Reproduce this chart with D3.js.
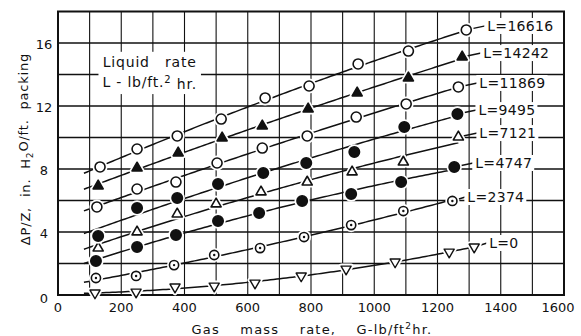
<!DOCTYPE html>
<html><head><meta charset="utf-8">
<script src="https://cdn.jsdelivr.net/npm/d3@7"></script>
<style>
html,body{margin:0;padding:0;background:#fff;}
svg{display:block;font-family:"DejaVu Sans",sans-serif;}
</style></head><body>
<svg id="chart" width="581" height="336"></svg>
<script>
// ---- data ----
const xTickValues = [0, 200, 400, 600, 800, 1000, 1200, 1400, 1600];
const yTickValues = [0, 4, 8, 12, 16];
const liquidRates = [0, 2374, 4747, 7121, 9495, 11869, 14242, 16616];

const gasL0     = [117, 247, 370, 494, 623, 769, 911, 1066, 1237, 1316];
const dpL0      = [0.13, 0.19, 0.51, 0.57, 0.76, 1.21, 1.65, 2.10, 2.73, 3.05];
const gasL2374  = [120, 247, 367, 494, 639, 778, 927, 1092, 1247];
const dpL2374   = [1.08, 1.21, 1.90, 2.54, 2.98, 3.68, 4.44, 5.33, 5.97];
const gasL4747  = [120, 250, 373, 506, 636, 772, 927, 1085, 1253];
const dpL4747   = [2.16, 3.05, 3.81, 4.70, 5.21, 5.97, 6.41, 7.17, 8.13];
const gasL7121  = [127, 250, 377, 500, 642, 788, 930, 1092, 1266];
const dpL7121   = [2.98, 4.00, 5.14, 5.78, 6.54, 7.17, 7.81, 8.44, 10.03];
const gasL9495  = [127, 250, 377, 506, 649, 785, 937, 1095, 1263];
const dpL9495   = [3.75, 5.52, 6.16, 7.05, 7.75, 8.38, 9.08, 10.67, 11.49];
const gasL11869 = [123, 250, 373, 503, 646, 788, 943, 1101, 1266];
const dpL11869  = [5.59, 6.73, 7.17, 8.38, 9.33, 10.10, 11.30, 12.13, 13.21];
const gasL14242 = [127, 250, 380, 519, 646, 791, 946, 1108, 1278];
const dpL14242  = [6.92, 8.06, 9.02, 9.97, 10.73, 11.81, 12.83, 13.78, 15.11];
const gasL16616 = [133, 250, 377, 516, 655, 794, 949, 1108, 1291];
const dpL16616  = [8.13, 9.27, 10.10, 11.17, 12.51, 13.27, 14.67, 15.49, 16.83];

const gasSeries = [gasL0, gasL2374, gasL4747, gasL7121, gasL9495, gasL11869, gasL14242, gasL16616];
const dpSeries  = [dpL0, dpL2374, dpL4747, dpL7121, dpL9495, dpL11869, dpL14242, dpL16616];
const markerKinds = ["triDownOpen", "circleDot", "circleFilled", "triUpOpen", "circleFilled", "circleOpen", "triUpFilled", "circleOpen"];

// ---- layout ----
const W = 581, H = 336;
const m = {left: 58, right: 17, top: 11.5, bottom: 41};
const svg = d3.select("#chart");
const x = d3.scaleLinear().domain([0, 1600]).range([m.left, W - m.right]);
const y = d3.scaleLinear().domain([0, 18]).range([H - m.bottom, m.top]);
const ink = "#111";

svg.append("rect").attr("width", W).attr("height", H).attr("fill", "#fff");

// grid
const g = svg.append("g");
g.selectAll("line.v").data(d3.range(100, 1600, 100)).join("line")
  .attr("x1", d => x(d)).attr("x2", d => x(d))
  .attr("y1", y(0)).attr("y2", y(18))
  .attr("stroke", ink).attr("stroke-width", 1.1);
g.selectAll("line.h").data(d3.range(2, 18, 2)).join("line")
  .attr("x1", x(0)).attr("x2", x(1600))
  .attr("y1", d => y(d)).attr("y2", d => y(d))
  .attr("stroke", ink).attr("stroke-width", 1.5);
g.append("rect").attr("x", x(0)).attr("y", y(18))
  .attr("width", x(1600) - x(0)).attr("height", y(0) - y(18))
  .attr("fill", "none").attr("stroke", ink).attr("stroke-width", 2);

// legend title block
const leg = svg.append("g");
const legText = leg.append("text").attr("font-size", 14).attr("fill", ink).attr("text-anchor", "middle")
  .attr("letter-spacing", 0.8);
legText.append("tspan").attr("x", x(290)).attr("y", y(14.8)).attr("dy", "0.35em")
  .attr("word-spacing", 10).text("Liquid rate");
const l2 = legText.append("tspan").attr("x", x(290)).attr("y", y(13.5)).attr("dy", "0.35em");
l2.append("tspan").text("L - lb/ft.");
l2.append("tspan").attr("font-size", 10).attr("dy", "-0.45em").text("2");
l2.append("tspan").attr("dy", "0.45em").text(" hr.");
const lb = legText.node().getBBox();
leg.insert("rect", "text").attr("x", lb.x - 4).attr("y", lb.y - 2)
  .attr("width", lb.width + 8).attr("height", lb.height + 4).attr("fill", "#fff");

// quadratic least-squares trend for each series
function quadFit(xs, ys) {
  const t = xs.map(v => v / 1000);
  let S = [0, 0, 0, 0, 0], T = [0, 0, 0];
  t.forEach((ti, i) => {
    for (let k = 0; k < 5; k++) S[k] += Math.pow(ti, k);
    for (let k = 0; k < 3; k++) T[k] += ys[i] * Math.pow(ti, k);
  });
  const A = [[S[0], S[1], S[2]], [S[1], S[2], S[3]], [S[2], S[3], S[4]]];
  const det = M => M[0][0]*(M[1][1]*M[2][2]-M[1][2]*M[2][1]) - M[0][1]*(M[1][0]*M[2][2]-M[1][2]*M[2][0]) + M[0][2]*(M[1][0]*M[2][1]-M[1][1]*M[2][0]);
  const D = det(A);
  const coef = [0, 1, 2].map(c => det(A.map((row, r) => row.map((v, j) => j === c ? T[r] : v))) / D);
  return gv => { const tt = gv / 1000; return coef[0] + coef[1]*tt + coef[2]*tt*tt; };
}

const lineGen = d3.line().x(d => x(d[0])).y(d => y(d[1]));
const curves = svg.append("g");
const marks = svg.append("g");
const labels = svg.append("g");

function drawMarker(sel, kind, cx, cy, halo) {
  const s = halo ? "#fff" : ink;
  const sw = halo ? 5 : 1.6;
  if (kind.startsWith("circle")) {
    const r = kind === "circleFilled" ? 5.2 : (kind === "circleDot" ? 4.6 : 5);
    sel.append("circle").attr("cx", cx).attr("cy", cy).attr("r", r)
      .attr("fill", halo ? "#fff" : (kind === "circleFilled" ? ink : "#fff"))
      .attr("stroke", s).attr("stroke-width", sw);
    if (!halo && kind === "circleDot")
      sel.append("circle").attr("cx", cx).attr("cy", cy).attr("r", 1.2).attr("fill", ink);
  } else {
    const down = kind === "triDownOpen";
    const filled = kind === "triUpFilled";
    sel.append("path").attr("d", d3.symbol(d3.symbolTriangle, 44)())
      .attr("transform", `translate(${cx},${cy})` + (down ? " rotate(180)" : ""))
      .attr("fill", halo ? "#fff" : (filled ? ink : "#fff"))
      .attr("stroke", s).attr("stroke-width", down && !halo ? 1.4 : sw)
      .attr("stroke-linejoin", "round");
  }
}

liquidRates.forEach((L, i) => {
  const gs = gasSeries[i], ds = dpSeries[i];
  const f = quadFit(gs, ds);
  const gStart = 82, gEnd = gs[gs.length - 1];
  const pts = d3.range(gStart, gEnd + 1, 10).map(v => [v, f(v)]);
  pts.push([gEnd, f(gEnd)]);
  curves.append("path").attr("d", lineGen(pts)).attr("fill", "none")
    .attr("stroke", ink).attr("stroke-width", 1.5);

  // label with white backing and connector
  const lx = x(gEnd) + (i < 2 ? 15 : 21), ly = y(ds[ds.length - 1]) - 4;
  const lab = labels.append("g");
  const t = lab.append("text").attr("x", lx).attr("y", ly).attr("dy", "0.36em")
    .attr("font-size", 14).attr("fill", ink).attr("letter-spacing", 0.3).text("L=" + L);
  const bb = t.node().getBBox();
  lab.insert("rect", "text").attr("x", bb.x - 3).attr("y", bb.y)
    .attr("width", bb.width + 5).attr("height", bb.height).attr("fill", "#fff");
  curves.append("line")
    .attr("x1", x(gEnd)).attr("y1", y(ds[ds.length - 1]))
    .attr("x2", lx - 2).attr("y2", ly)
    .attr("stroke", ink).attr("stroke-width", 1.4);

  gs.forEach((gv, j) => drawMarker(marks, markerKinds[i], x(gv), y(ds[j]), true));
  gs.forEach((gv, j) => drawMarker(marks, markerKinds[i], x(gv), y(ds[j]), false));
});

// axes tick labels
svg.append("g").selectAll("text").data(xTickValues).join("text")
  .attr("x", d => x(d) - (d === 1600 ? 6 : 0)).attr("y", y(0) + 12).attr("dy", "0.35em")
  .attr("text-anchor", "middle").attr("font-size", 13).attr("fill", ink).text(d => d);
svg.append("g").selectAll("text").data(yTickValues).join("text")
  .attr("x", 44).attr("y", d => y(d) + (d === 0 ? 3 : 1)).attr("dy", "0.35em")
  .attr("text-anchor", "middle").attr("font-size", 13).attr("fill", ink).text(d => d);

// axis titles
const xt = svg.append("text").attr("x", 312).attr("y", 329).attr("dy", "0.35em")
  .attr("text-anchor", "middle").attr("font-size", 13).attr("fill", ink)
  .attr("letter-spacing", 1.2).attr("word-spacing", 15);
xt.append("tspan").text("Gas mass rate, G-lb/ft");
xt.append("tspan").attr("font-size", 9).attr("dy", "-0.5em").text("2");
xt.append("tspan").attr("dy", "0.4em").text("hr.");

const yt = svg.append("text").attr("transform", "translate(25,149) rotate(-90)")
  .attr("dy", "0.35em").attr("text-anchor", "middle").attr("font-size", 13).attr("fill", ink)
  .attr("letter-spacing", 0.8).attr("word-spacing", 5);
yt.append("tspan").text("ΔP/Z, in. H");
yt.append("tspan").attr("font-size", 9).attr("dy", "0.35em").text("2");
yt.append("tspan").attr("dy", "-0.35em").text("O/ft. packing");
</script>
</body></html>
